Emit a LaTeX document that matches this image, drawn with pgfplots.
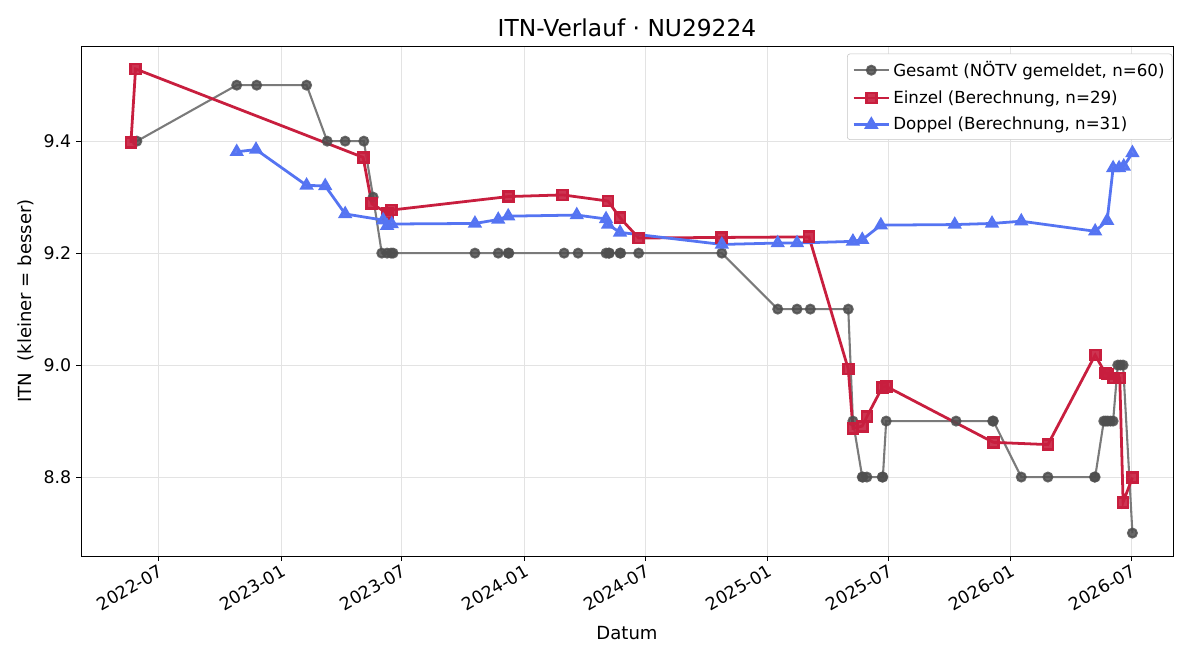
\documentclass[border=0pt]{standalone}
\usepackage{fontspec}
\setmainfont{DejaVu Sans}
\usepackage{pgfplots}
\pgfplotsset{compat=1.18}
\definecolor{gline}{HTML}{7A7A7A}
\definecolor{gmark}{HTML}{4F4F4F}
\definecolor{ered}{HTML}{C81E3E}
\definecolor{dblue}{HTML}{5574F2}
\definecolor{gridc}{HTML}{E3E3E3}
\begin{document}
\begin{tikzpicture}
\path[use as bounding box] (-58.32pt,-74.88pt) rectangle (805.68pt,400.32pt);
\begin{axis}[
  at={(0,0)}, anchor=south west,
  scale only axis, width=786.24pt, height=367.2pt,
  xmin=64, xmax=1705, ymin=8.659, ymax=9.570,
  xtick={181,365,546,730,912,1096,1277,1461,1642},
  xticklabels={2022-07,2023-01,2023-07,2024-01,2024-07,2025-01,2025-07,2026-01,2026-07},
  x tick label style={rotate=30, anchor=north east, inner sep=1.5pt},
  ytick={8.8,9.0,9.2,9.4},
  yticklabels={8.8,9.0,9.2,9.4},
  tick pos=left, tick align=outside, major tick length=3.5pt,
  tick style={black, line width=0.6pt},
  grid=major, grid style={gridc, line width=0.6pt},
  axis line style={black, line width=0.6pt},
  ticklabel style={font=\fontsize{12.5}{15}\selectfont},
  /pgf/number format/assume math mode=true,
  xlabel={Datum}, ylabel={ITN\ \ (kleiner = besser)},
  label style={font=\fontsize{13}{15}\selectfont},
  xlabel style={yshift=-5pt},
  ylabel style={yshift=0pt},
  title={ITN-Verlauf · NU29224},
  title style={font=\fontsize{16.8}{19}\selectfont, yshift=-3pt},
  legend style={at={(0.9995,0.985)}, anchor=north east, draw=gridc!70!gray, rounded corners=2pt,
    font=\fontsize{12}{14}\selectfont, row sep=4.5pt, inner sep=3.5pt, cells={anchor=west}},
  legend cell align=left,
  legend image code/.code={\draw[mark repeat=2,mark phase=2] plot coordinates {(0cm,0cm) (0.45cm,0cm) (0.9cm,0cm)};},
]
\addplot[gline, line width=1.5pt, mark=*, mark size=3.2pt,
  mark options={draw=gmark, fill=gmark, fill opacity=0.85, draw opacity=0.85}]
coordinates {
(148,9.4) (298,9.5) (328,9.5) (403,9.5) (434,9.4) (461,9.4) (489,9.4) (503,9.3)
(516,9.2) (524,9.2) (530,9.2) (533,9.2) (656,9.2) (691,9.2) (706,9.2) (707,9.2)
(790,9.2) (811,9.2) (853,9.2) (857,9.2) (858,9.2) (874,9.2) (875,9.2) (902,9.2)
(1027,9.2) (1111,9.1) (1140,9.1) (1160,9.1) (1217,9.1) (1224,8.9) (1238,8.8) (1239,8.8)
(1245,8.8) (1268,8.8) (1269,8.8) (1274,8.9) (1379,8.9) (1434,8.9) (1435,8.9) (1477,8.8)
(1517,8.8) (1587,8.8) (1588,8.8) (1601,8.9) (1604,8.9) (1607,8.9) (1611,8.9) (1615,8.9)
(1622,9.0) (1626,9.0) (1630,9.0) (1644,8.7)
};
\addlegendentry{Gesamt (NÖTV gemeldet, n=60)}
\addplot[ered, line width=2pt, mark=square*, mark size=3.6pt,
  mark options={fill=ered, fill opacity=0.9}]
coordinates {
(139,9.397) (146,9.529) (488,9.371) (501,9.288) (525,9.271) (531,9.277)
(706,9.301) (788,9.304) (856,9.293) (874,9.263) (902,9.227) (1027,9.228)
(1158,9.229) (1217,8.993) (1224,8.887) (1238,8.891) (1245,8.908) (1268,8.960)
(1274,8.962) (1435,8.862) (1517,8.858) (1588,9.018) (1603,8.986) (1607,8.984)
(1615,8.977) (1625,8.977) (1630,8.755) (1644,8.799)
};
\addlegendentry{Einzel (Berechnung, n=29)}
\addplot[dblue, line width=2pt, mark=triangle*, mark size=4pt,
  mark options={fill=dblue, fill opacity=0.9}]
coordinates {
(298,9.381) (327,9.385) (403,9.321) (431,9.320) (461,9.270) (518,9.259)
(524,9.249) (531,9.252) (656,9.253) (691,9.260) (706,9.266) (809,9.268)
(853,9.261) (856,9.251) (874,9.237) (1027,9.2155) (1111,9.218) (1140,9.218)
(1224,9.221) (1238,9.224) (1266,9.250) (1377,9.251) (1433,9.253) (1477,9.257)
(1588,9.239) (1606,9.258) (1615,9.352) (1624,9.352) (1631,9.355) (1644,9.379)
};
\addlegendentry{Doppel (Berechnung, n=31)}
\end{axis}
\end{tikzpicture}
\end{document}
